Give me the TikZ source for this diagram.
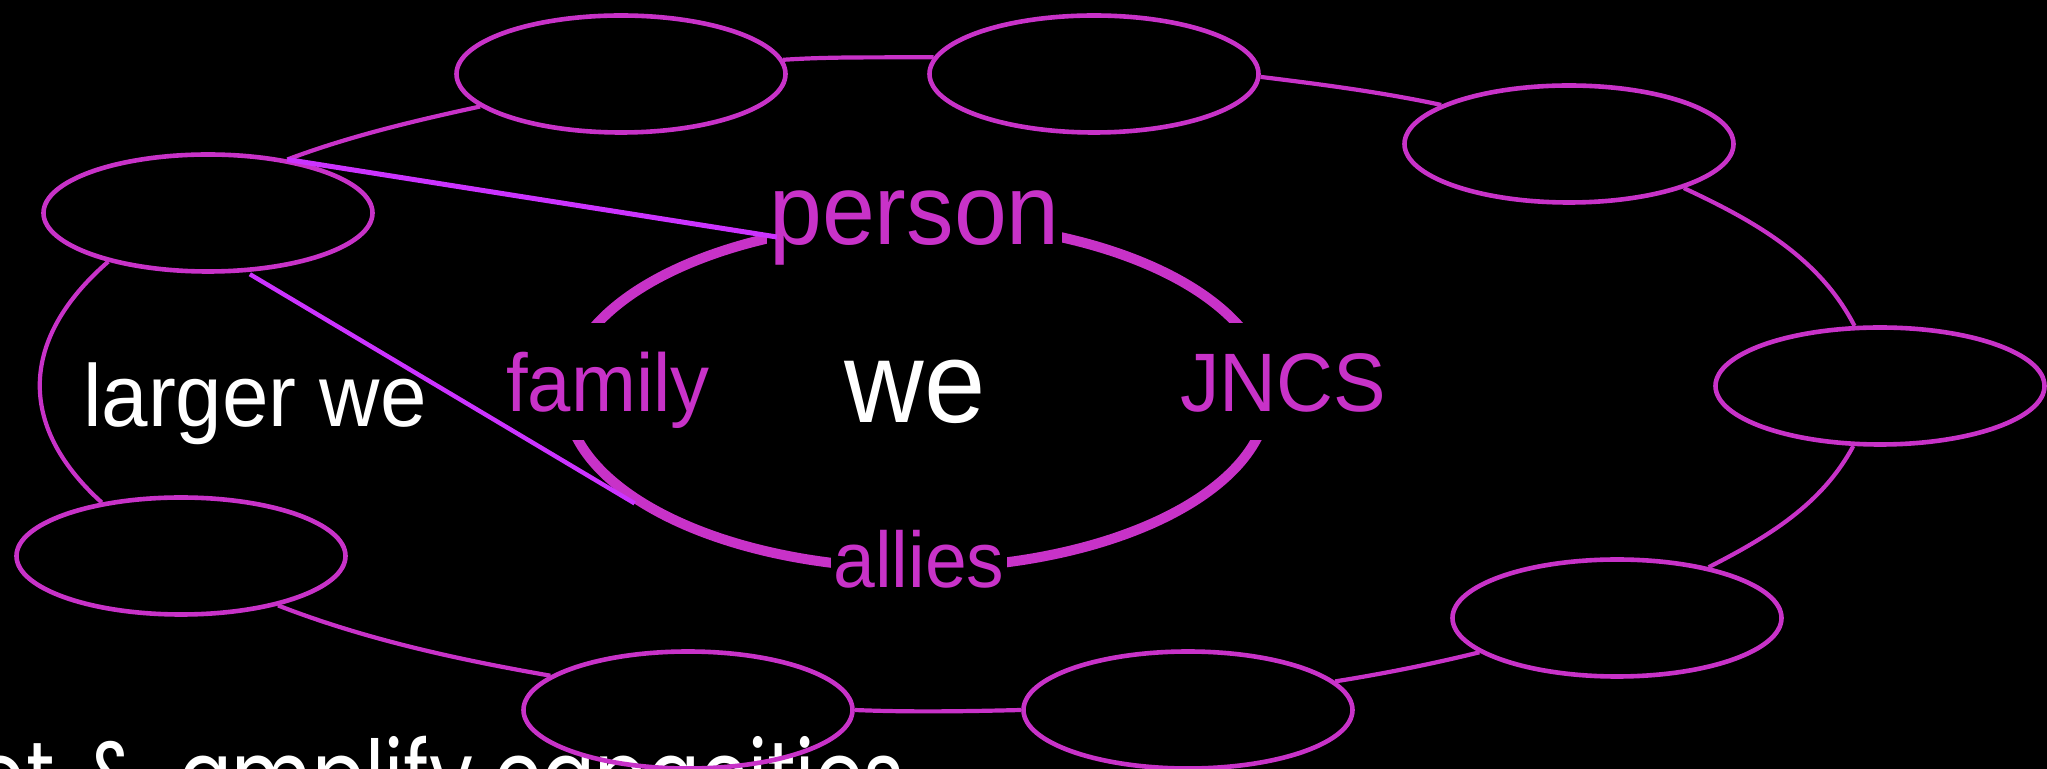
\documentclass[tikz,border=0pt]{standalone}
\usepackage{fontspec}
\usetikzlibrary{shapes.geometric}
\newfontfamily\labfont[FakeStretch=0.95]{Liberation Sans}
\newfontfamily\botfont[FakeStretch=0.815]{Poppins}
\definecolor{mag}{RGB}{200,50,200}
\definecolor{vio}{RGB}{204,51,255}
\begin{document}
\begin{tikzpicture}[x=0.5pt,y=-0.5pt,
  bub/.style={ellipse, draw=mag, line width=2.3pt, minimum width=164.5pt, minimum height=58.5pt, inner sep=0pt},
  ringline/.style={draw=mag, line width=2.1pt},
  lab/.style={text=mag, inner sep=0pt, anchor=base},
  whitelab/.style={text=white, inner sep=0pt, anchor=base},
  link/.style={draw=vio, line width=2.5pt}]
\fill[black] (0,0) rectangle (2047,769);
\useasboundingbox (0,0) rectangle (2047,769);
\clip (0,0) rectangle (2047,769);

\node[font=\botfont\fontsize{48}{50}\selectfont, text=white, anchor=base east, inner sep=0pt] (cap) at (905,810) {ot\hspace{0.11em} \&\hspace{0.15em} amplify capacities};

\node[bub] (E1) at (621,74) {};
\node[bub] (E2) at (1094,74) {};
\node[bub] (E3) at (1569,144) {};
\node[bub] (E4) at (1880,386) {};
\node[bub] (E5) at (1617,618) {};
\node[bub] (E6) at (1188,710) {};
\node[bub] (E7) at (688,710) {};
\node[bub] (E8) at (181,556) {};
\node[bub] (E9) at (208,213) {};

\node[ellipse, draw=mag, line width=5pt, minimum width=351pt, minimum height=173pt] (ring) at (917,395) {};

\node[lab, fill=black, inner xsep=1pt, inner ysep=2pt, font=\labfont\fontsize{50}{50}\selectfont] (person) at (914.5,245) {person};
\node[lab, fill=black, inner xsep=2pt, text height=44.5pt, text depth=14pt, font=\labfont\fontsize{41}{42}\selectfont] (family) at (608,412) {family};
\node[lab, fill=black, inner xsep=2pt, text height=44.5pt, text depth=14pt, font=\labfont\fontsize{41.5}{42}\selectfont] (jncs) at (1283,412) {JNCS};
\node[lab, fill=black, inner xsep=1pt, inner ysep=2pt, font=\labfont\fontsize{39.5}{40}\selectfont] (allies) at (919,588) {allies};
\node[whitelab, font=\labfont\fontsize{58}{58}\selectfont] (we) at (915,423) {we};
\node[whitelab, font=\labfont\fontsize{44}{44}\selectfont] (larger) at (255,427) {larger we};

\draw[ringline] (E1.5) to[out=3.9,in=180.7,looseness=0.85] (E2.174);
\draw[ringline] (E2.-1) to[out=-7,in=167.9,looseness=0.85] (E3.163);
\draw[ringline] (E3.-21) to[out=-25,in=117.2,looseness=0.9] (E4.113);
\draw[ringline] (E4.-114) to[out=-118.2,in=27.1,looseness=0.9] (E5.29);
\draw[ringline] (E5.-166) to[out=-166.2,in=9,looseness=0.85] (E6.11);
\draw[ringline] (E6.180) to[out=-178.6,in=-2.4,looseness=0.85] (E7.0);
\draw[ringline] (E7.166) to[out=170.1,in=-21.3,looseness=0.85] (E8.-27);
\draw[ringline] (E8.146) to[out=137.9,in=221,looseness=1.23] (E9.-154);
\draw[ringline] (E9.34) to[out=20.6,in=192.2,looseness=0.85] (E1.-167);

\draw[link] (E9.34) -- ([xshift=5pt,yshift=4pt]person.base west);
\draw[link, line width=2.2pt, shorten <=2pt] (E9.-57) -- (ring.201);
\end{tikzpicture}
\end{document}
